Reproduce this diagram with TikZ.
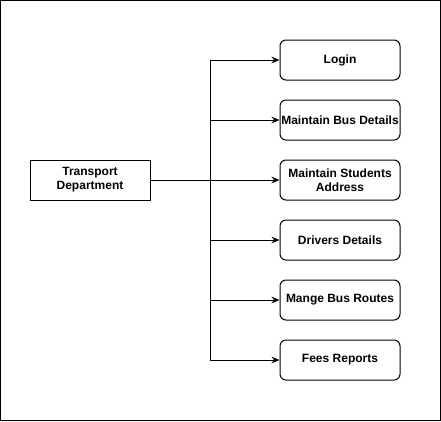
\documentclass[tikz,border=0pt]{standalone}
\usepackage{fontspec}
\setmainfont{Liberation Sans}
\usetikzlibrary{arrows.meta, positioning}

\tikzset{
  deptbox/.style={draw, line width=0.75pt, minimum width=90pt, minimum height=30pt, inner sep=0pt, align=center, font=\bfseries\fontsize{9}{10.5}\selectfont},
  modbox/.style={draw, line width=0.75pt, rounded corners=4.5pt, minimum width=90pt, minimum height=30pt, inner sep=0pt, align=center, font=\bfseries\fontsize{9}{10.5}\selectfont},
  link/.style={line width=0.75pt, -{Stealth[length=6pt, width=5pt]}}
}

\begin{document}
\begin{tikzpicture}[x=0.75pt, y=-0.75pt]
  \useasboundingbox (0,0) rectangle (441,421);
  % Outer frame
  \draw[line width=0.75pt] (0.5,0.5) rectangle (440.5,420.5);

  % Department
  \node[deptbox] (dept) at (90,180) {Transport\\Department};

  % Modules
  \node[modbox] (login) at (340,60) {Login};
  \node[modbox] (bus) at (340,120) {Maintain Bus Details};
  \node[modbox] (addr) at (340,180) {Maintain Students\\Address};
  \node[modbox] (drivers) at (340,240) {Drivers Details};
  \node[modbox] (routes) at (340,300) {Mange Bus Routes};
  \node[modbox] (fees) at (340,360) {Fees Reports};

  % Connectors
  \coordinate (trunk) at (210,180);
  \draw[link] (dept.east) -- (addr.west);
  \draw[line width=0.75pt] (trunk |- login.west) -- (trunk |- fees.west);
  \foreach \m in {login, bus, drivers, routes, fees}
    \draw[link] (trunk |- \m.west) -- (\m.west);
\end{tikzpicture}
\end{document}
